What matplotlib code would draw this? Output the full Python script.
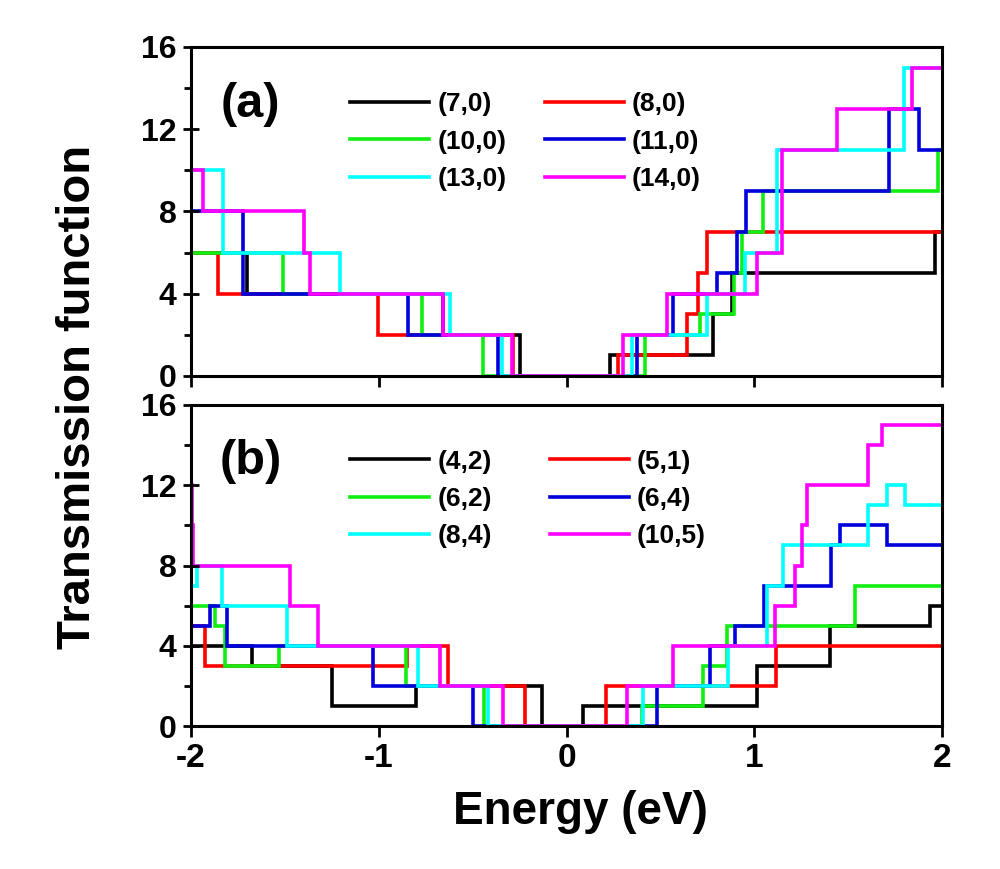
import matplotlib
matplotlib.use("Agg")
import matplotlib.pyplot as plt
from matplotlib.ticker import MultipleLocator

# ---------------- data (step functions: edges in eV, values between edges) ----------------
# Panel (a): zigzag tubes
A_LABELS = ["(7,0)", "(8,0)", "(10,0)", "(11,0)", "(13,0)", "(14,0)"]
A70_E = [-2, -1.70, -0.656, -0.248, 0.232, 0.782, 0.88, 1.963, 2]
A70_T = [6, 4, 2, 0, 1, 3, 5, 7]
A80_E = [-2, -1.856, -1.006, -0.285, 0.275, 0.64, 0.70, 0.747, 2]
A80_T = [6, 4, 2, 0, 1, 3, 5, 7]
A100_E = [-2, -1.51, -0.77, -0.443, 0.418, 0.711, 0.89, 0.935, 1.045, 1.98, 2]
A100_T = [6, 4, 2, 0, 2, 3, 5, 7, 9, 11]
A110_E = [-2, -1.723, -0.844, -0.363, 0.374, 0.569, 0.80, 0.906, 0.955, 1.72, 1.88, 2]
A110_T = [8, 4, 2, 0, 2, 4, 5, 7, 9, 13, 11]
A130_E = [-2, -1.828, -1.206, -0.62, -0.341, 0.35, 0.747, 0.95, 1.12, 1.80, 2]
A130_T = [10, 6, 4, 2, 0, 2, 4, 6, 11, 15]
A140_E = [-2, -1.934, -1.40, -1.366, -0.656, -0.288, 0.303, 0.534, 1.013, 1.15, 1.439, 1.839, 2]
A140_T = [10, 8, 6, 4, 2, 0, 2, 4, 6, 11, 13, 15]

# Panel (b): chiral tubes
B_LABELS = ["(4,2)", "(5,1)", "(6,2)", "(6,4)", "(8,4)", "(10,5)"]
B42_E = [-2, -1.675, -1.25, -0.80, -0.132, 0.088, 1.013, 1.403, 1.936, 2]
B42_T = [4, 3, 1, 2, 0, 1, 3, 5, 6]
B51_E = [-2, -1.926, -0.851, -0.63, -0.221, 0.21, 1.116, 2]
B51_T = [5, 3, 4, 2, 0, 2, 4]
B62_E = [-2, -1.872, -1.819, -1.53, -0.855, -0.44, 0.40, 0.729, 0.853, 1.537, 2]
B62_T = [6, 5, 3, 4, 2, 0, 1, 3, 5, 7]
B64_E = [-2, -1.899, -1.81, -1.029, -0.496, 0.482, 0.764, 0.897, 1.05, 1.41, 1.457, 1.705, 2]
B64_T = [5, 6, 4, 2, 0, 2, 4, 5, 7, 9, 10, 9]
B84_E = [-2, -1.97, -1.837, -1.49, -0.79, -0.42, 0.407, 0.862, 1.066, 1.155, 1.606, 1.705, 1.803, 2]
B84_T = [7, 8, 6, 4, 2, 0, 2, 4, 7, 9, 11, 12, 11]
B105_E = [-2, -1.995, -1.99, -1.473, -1.322, -0.674, -0.337, 0.32, 0.569, 1.11, 1.217, 1.253, 1.28, 1.607, 1.679, 2]
B105_T = [12, 10, 8, 6, 4, 2, 0, 2, 4, 6, 8, 10, 12, 14, 15]

XTICKS = [-2, -1, 0, 1, 2]
XTICK_LABELS = ["-2", "-1", "0", "1", "2"]
YTICKS = [0, 4, 8, 12, 16]
YTICK_LABELS = ["0", "4", "8", "12", "16"]

COLORS = ["#000000", "#ff0000", "#11ee11", "#0000dd", "#00ffff", "#ff00ff"]

# ---------------- figure ----------------
plt.rcParams["font.family"] = ["Liberation Sans", "DejaVu Sans"]
plt.rcParams["font.weight"] = "bold"

fig = plt.figure(figsize=(10, 8.69), dpi=100)
W, H = 1000, 869
ax_a = fig.add_axes([191 / W, 1 - 376 / H, 751 / W, 329 / H])
ax_b = fig.add_axes([191 / W, 1 - 726 / H, 751 / W, 321 / H])

series_a = [(A70_E, A70_T), (A80_E, A80_T), (A100_E, A100_T),
            (A110_E, A110_T), (A130_E, A130_T), (A140_E, A140_T)]
series_b = [(B42_E, B42_T), (B51_E, B51_T), (B62_E, B62_T),
            (B64_E, B64_T), (B84_E, B84_T), (B105_E, B105_T)]

ROW_ORDER = [0, 2, 4, 1, 3, 5]  # legend filled row by row (2 columns)

for ax, series, labels, tag, leg_y, colsp in [
        (ax_a, series_a, A_LABELS, "(a)", 0.862, 1.45),
        (ax_b, series_b, B_LABELS, "(b)", 0.861, 2.2)]:
    handles = []
    for (e, t), c, lab in zip(series, COLORS, labels):
        ax.stairs(t, e, baseline=None, color=c, lw=2.6, label=lab)
        handles.append(plt.Line2D([], [], color=c, lw=2.6))
    ax.set_xlim(-2, 2)
    ax.set_ylim(0, 16)
    ax.set_yticks(YTICKS, labels=YTICK_LABELS, fontsize=23, fontweight="bold")
    ax.yaxis.set_minor_locator(MultipleLocator(2))
    ax.set_xticks(XTICKS, labels=XTICK_LABELS, fontsize=24, fontweight="bold")
    ax.tick_params(axis="y", which="major", direction="inout", length=12, width=2, pad=4.5)
    ax.tick_params(axis="y", which="minor", direction="out", length=5, width=2)
    ax.tick_params(axis="x", which="major", direction="out", length=8, width=2, pad=4)
    for s in ax.spines.values():
        s.set_linewidth(2.2)
    ax.text(0.079, 0.824, tag, transform=ax.transAxes, ha="center", va="center",
            fontsize=35, fontweight="bold")
    ax.legend([handles[i] for i in ROW_ORDER], [labels[i] for i in ROW_ORDER],
              loc="upper left", bbox_to_anchor=(0.212, leg_y),
              ncol=2, frameon=False, handlelength=3.0,
              handletextpad=0.3, columnspacing=colsp, labelspacing=0.5,
              borderpad=0, borderaxespad=0,
              prop={"weight": "bold", "size": 19})

ax_a.tick_params(axis="x", labelbottom=False)

fig.text(0.078, 1 - 397 / H, "Transmission function", rotation=90, ha="center",
         va="center", fontsize=34, fontweight="bold")
fig.text(0.58, 1 - 812 / H, "Energy (eV)", ha="center", va="center",
         fontsize=33, fontweight="bold")

fig.savefig("out.png", dpi=100)
